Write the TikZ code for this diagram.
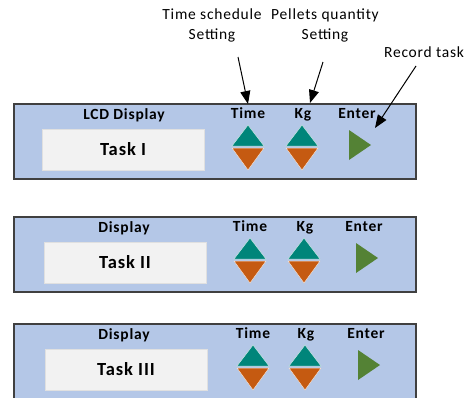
\documentclass[tikz,border=0pt]{standalone}
\usepackage{fontspec}
\setmainfont[LetterSpace=5]{Carlito}
\usetikzlibrary{arrows.meta}

\definecolor{panelblue}{HTML}{B4C7E7}
\definecolor{panelline}{HTML}{404040}
\definecolor{lcdgray}{HTML}{F2F2F2}
\definecolor{upteal}{HTML}{00857A}
\definecolor{downorange}{HTML}{C55A11}
\definecolor{entergreen}{HTML}{548235}

\tikzset{
  panel/.style={draw=panelline, fill=panelblue, line width=1.2pt},
  lcd/.style={draw=black!12, fill=lcdgray, line width=0.6pt, minimum width=162pt, minimum height=41pt},
  keylabel/.style={font=\fontsize{15.5}{17}\selectfont\bfseries, inner sep=1pt,
                   text height=0.68em, text depth=0.2em},
  tasklabel/.style={font=\fontsize{18.5}{20}\selectfont\bfseries},
  note/.style={font=\fontsize{15.5}{20}\selectfont, align=center},
  pointer/.style={-{Triangle[length=13pt,width=10pt]}, line width=1pt},
  upkey/.style={fill=upteal, draw=white!80!upteal, line width=0.5pt},
  downkey/.style={fill=downorange, draw=white!80!downorange, line width=0.5pt},
  enterkey/.style={fill=entergreen},
}

\begin{document}
\begin{tikzpicture}[x=1pt, y=-1pt]
  \useasboundingbox (0,0) rectangle (465,397);
  \clip (0,0) rectangle (465,397);

  % three control panels
  \foreach \top/\lx/\tx/\kx/\ex/\lab/\task [count=\n] in
      {104/123/248/302/349/LCD Display/Task I,
       217/125/250/304/356/Display/Task II,
       324/126/253/305/358/Display/Task III} {
    \draw [panel] (14,\top) rectangle (416,\top+75);
    \node [keylabel] (lcdlab\n) at (124,\top+13) {\lab};
    \node [lcd, tasklabel] (lcd\n) at (\lx,\top+45.5) {\task};
    \node [keylabel] (time\n) at (\tx,\top+12.5) {Time};
    \node [keylabel] (kg\n) at (\kx+1,\top+12.5) {Kg};
    \node [keylabel] (enter\n) at (\ex+8,\top+12.5) {Enter};
    % up / down keys
    \foreach \x in {\tx,\kx} {
      \draw [upkey] (\x-16,\top+42) -- (\x,\top+21) -- (\x+16,\top+42) -- cycle;
      \draw [downkey] (\x-16,\top+44) -- (\x+16,\top+44) -- (\x,\top+66) -- cycle;
    }
    % enter key
    \fill [enterkey] (\ex,\top+26) -- (\ex+22,\top+41) -- (\ex,\top+56) -- cycle;
  }

  % notes above the first panel
  \node [note] (tsched) at (212,25) {Time schedule\\Setting};
  \node [note] (pqty) at (325,25) {Pellets quantity\\Setting};
  \node [note] (rtask) at (424,52) {Record task};

  \coordinate (tschedfoot) at (238,57);
  \coordinate (pqtyfoot) at (323,62);
  \coordinate (rtaskfoot) at (416,66);
  \coordinate (timetip) at (248,104);
  \coordinate (kgtip) at (310,103);
  \coordinate (entertip) at (375,128);

  \draw [pointer] (tschedfoot) -- (timetip);
  \draw [pointer] (pqtyfoot) -- (kgtip);
  \draw [pointer] (rtaskfoot) -- (entertip);
\end{tikzpicture}
\end{document}
